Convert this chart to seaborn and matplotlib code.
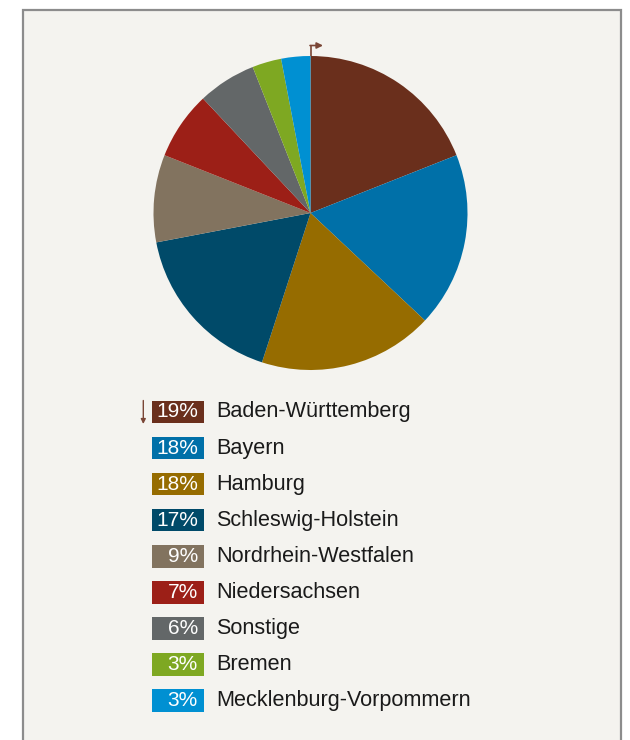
import matplotlib
matplotlib.use("Agg")
import matplotlib.pyplot as plt
from matplotlib.patches import Rectangle, FancyArrowPatch
import seaborn as sns

# Anteile nach Bundesland (Prozent)
laender = ["Baden-Württemberg", "Bayern", "Hamburg", "Schleswig-Holstein",
           "Nordrhein-Westfalen", "Niedersachsen", "Sonstige", "Bremen",
           "Mecklenburg-Vorpommern"]
anteile = [19, 18, 18, 17, 9, 7, 6, 3, 3]
farben = ["#6a2f1c", "#0070a8", "#966c00", "#004a69", "#82735f",
          "#9c1f17", "#636768", "#7ea822", "#0090d2"]

sns.set_theme(style="white")
plt.rcParams["font.family"] = ["Liberation Sans", "DejaVu Sans"]

W, H = 630, 740
fig = plt.figure(figsize=(W / 100, H / 100), dpi=100)
fig.patch.set_facecolor("white")

# full-figure overlay in pixel coordinates (y downwards)
bg = fig.add_axes([0, 0, 1, 1])
bg.set_xlim(0, W)
bg.set_ylim(H, 0)
bg.axis("off")
bg.add_patch(Rectangle((23, 10), 598, 760, facecolor="#f4f3ef",
                       edgecolor="#8c8c8c", linewidth=1.6, zorder=0))

# pie
cx, cy, r = 310.5, 213, 157
ax = fig.add_axes([(cx - r) / W, 1 - (cy + r) / H, 2 * r / W, 2 * r / H])
ax.pie(anteile, colors=farben, startangle=90, counterclock=False,
       radius=1, wedgeprops=dict(linewidth=0))
ax.set_xlim(-1, 1)
ax.set_ylim(-1, 1)
ax.set_aspect("auto")
ax.axis("off")

# start marker at the top of the pie
pfeil = "#7a4636"
bg.plot([310.5, 310.5], [56, 45.5], color=pfeil, lw=1.2, zorder=3,
        solid_capstyle="butt")
bg.add_patch(FancyArrowPatch((310, 45.5), (323, 45.5), arrowstyle="-|>",
                             mutation_scale=9, color=pfeil, lw=1.2, zorder=3,
                             shrinkA=0, shrinkB=0))

# legend
y0, dy = 411.8, 36.1
for i, (name, wert, farbe) in enumerate(zip(laender, anteile, farben)):
    y = y0 + i * dy
    bg.add_patch(Rectangle((152.3, y - 11.3), 52, 22.6, facecolor=farbe,
                           edgecolor="none", zorder=2))
    bg.text(198.0, y + 5.6, f"{wert}%", color="white", fontsize=15,
            ha="right", va="baseline", zorder=3)
    bg.text(216, y + 5.6, name, color="#1a1a1a", fontsize=15.6,
            ha="left", va="baseline", zorder=3)

bg.add_patch(FancyArrowPatch((143.3, 400.5), (143.3, 424), arrowstyle="-|>",
                             mutation_scale=7, color=pfeil, lw=1.0, zorder=3,
                             shrinkA=0, shrinkB=0))

fig.savefig("out.png", dpi=100)
